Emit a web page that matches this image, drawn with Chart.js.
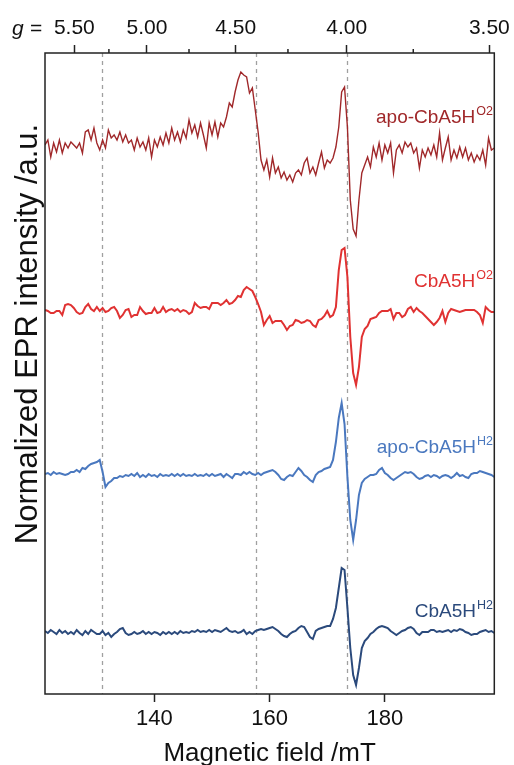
<!DOCTYPE html>
<html><head><meta charset="utf-8">
<script src="https://cdn.jsdelivr.net/npm/chart.js@4.4.1/dist/chart.umd.min.js"></script>
<style>html,body{margin:0;padding:0;background:#fff}canvas{display:block}</style>
</head><body>
<canvas id="c" width="514" height="765"></canvas>
<script>
// Magnetic field (mT)
const field = [121,121.5,122,122.5,123,123.5,124,124.5,125,125.5,126,126.5,127,127.5,128,128.5,129,129.5,130,130.5,131,131.5,132,132.5,133,133.5,134,134.5,135,135.5,136,136.5,137,137.5,138,138.5,139,139.5,140,140.5,141,141.5,142,142.5,143,143.5,144,144.5,145,145.5,146,146.5,147,147.5,148,148.5,149,149.5,150,150.5,151,151.5,152,152.5,153,153.5,154,154.5,155,155.5,156,156.5,157,157.5,158,158.5,159,159.5,160,160.5,161,161.5,162,162.5,163,163.5,164,164.5,165,165.5,166,166.5,167,167.5,168,168.5,169,169.5,170,170.5,171,171.5,172,172.5,173,173.5,174,174.5,175,175.5,176,176.5,177,177.5,178,178.5,179,179.5,180,180.5,181,181.5,182,182.5,183,183.5,184,184.5,185,185.5,186,186.5,187,187.5,188,188.5,189,189.5,190,190.5,191,191.5,192,192.5,193,193.5,194,194.5,195,195.5,196,196.5,197,197.5,198,198.5,199];

// Offset EPR intensities (a.u.), one per series
const apoO2 = [549,554,537,551,542,554,541,551,546,552,
549,546,551,541,562,564,554,566,551,544,
554,546,564,556,559,554,562,552,559,551,
554,544,556,547,552,544,556,537,554,547,
557,549,561,551,566,554,562,552,564,556,
574,561,569,557,571,559,546,571,559,572,
557,571,567,577,591,587,602,614,622,619,
617,601,606,584,562,534,524,534,517,536,
521,527,516,522,514,519,512,521,524,519,
531,536,521,527,519,531,542,526,534,531,
536,547,567,602,607,567,494,465,458,494,
521,529,537,527,547,537,551,534,549,541,
551,521,544,549,541,552,547,551,541,546,
526,544,537,546,539,549,537,561,534,546,
557,534,544,536,547,537,546,534,541,532,
539,534,544,529,556,544,546];

const cbO2 = [384,383,381,381,383,383,379,389,390,389,
386,382,380,381,387,390,385,383,387,383,
386,382,383,386,387,383,376,379,384,385,
377,379,379,387,383,380,381,381,386,381,
382,387,382,384,385,383,385,382,384,383,
380,382,391,388,386,387,387,385,391,391,
391,389,391,394,390,391,394,398,397,404,
407,405,403,397,390,382,369,374,378,371,
373,373,373,369,364,368,369,374,373,371,
372,374,373,369,367,374,375,378,383,377,
379,387,424,444,446,417,357,321,309,327,
357,365,368,375,376,377,381,383,383,383,
385,375,381,381,377,379,385,387,382,386,
383,381,378,375,372,369,372,376,383,372,
381,385,384,383,382,383,384,384,384,384,
382,379,371,387,384,382,382];

const apoH2 = [220,221,219,222,220,221,220,219,220,222,
222,224,222,226,225,228,230,231,232,234,
222,207,211,213,216,216,218,217,219,218,
220,218,221,217,219,217,220,218,219,217,
220,218,219,218,220,218,220,218,220,218,
219,218,220,218,219,218,220,218,220,218,
219,220,217,220,218,216,220,220,219,222,
220,222,220,219,221,219,221,222,223,224,
222,219,215,214,217,219,218,222,226,223,
219,217,214,212,219,222,223,225,226,227,
234,252,276,291,270,217,174,154,174,199,
211,215,217,219,219,220,224,226,221,219,
216,214,216,218,220,222,221,222,220,217,
215,216,218,219,217,219,218,216,218,219,
218,216,218,221,218,219,217,216,220,221,
221,223,222,221,220,219,217];

const cbH2 = [63,61,64,62,60,64,61,63,60,62,
60,64,61,59,63,60,64,62,60,60,
63,59,61,57,60,62,65,66,61,59,
60,62,60,61,63,60,62,60,62,61,
59,62,60,62,60,62,60,63,61,62,
61,63,62,64,62,63,62,64,62,64,
63,62,64,66,63,62,63,61,62,64,
60,62,60,63,64,65,64,65,66,67,
65,63,60,58,57,60,62,63,66,68,
67,62,57,55,63,65,66,67,68,68,
75,86,106,126,124,86,46,19,9,26,
46,53,56,60,62,65,67,68,67,66,
63,61,59,61,63,64,66,67,65,61,
59,62,62,62,64,64,62,63,62,63,
64,62,64,63,65,64,62,61,59,60,
60,62,63,64,62,63,61];

const seriesNames = ['apo-CbA5H','CbA5H','apo-CbA5H','CbA5H'];
const seriesSup = ['O2','O2','H2','H2'];
const fieldTicks = [140,160,180];
const gMajor = [5.50,5.00,4.50,4.00,3.50];
const gMinor = [5.25,4.75,4.25,3.75];
const markerFields = [130.9,157.7,173.4];
const G_CONST = 693.5; // h*nu/muB in mT

const FONT = '"Liberation Sans", Arial, Helvetica, sans-serif';
const colors = ['#a0282a','#e03232','#4a78bf','#2b4a7c'];
const widths = [1.4,2,2,2];
const labelBaselines = [123,287,453,617];

const seriesValues = [apoO2, cbO2, apoH2, cbH2];
const datasets = seriesValues.map((vals,si)=>({
  label: seriesNames[si]+seriesSup[si],
  data: field.map((f,i)=>({x:f,y:vals[i]})),
  borderColor: colors[si], borderWidth: widths[si],
  pointRadius:0, fill:false, tension:0, xAxisID:'x', yAxisID:'y'
}));

const decor = {
  id:'decor',
  beforeDatasetsDraw(chart){
    const {ctx, chartArea:a, scales:{x}} = chart;
    ctx.save();
    ctx.strokeStyle='#a0a0a0'; ctx.lineWidth=1.3; ctx.setLineDash([4,4]);
    markerFields.forEach(f=>{
      const px=Math.round(x.getPixelForValue(f))+0.5;
      ctx.beginPath(); ctx.moveTo(px,a.top); ctx.lineTo(px,a.bottom); ctx.stroke();
    });
    ctx.restore();
  },
  afterDraw(chart){
    const {ctx, chartArea:a, scales:{x2}} = chart;
    ctx.save();
    ctx.strokeStyle='#222'; ctx.lineWidth=1.5;
    ctx.strokeRect(a.left, a.top, a.right-a.left, a.bottom-a.top);
    gMinor.forEach(g=>{
      const px=x2.getPixelForValue(G_CONST/g);
      ctx.beginPath(); ctx.moveTo(px,a.top); ctx.lineTo(px,a.top-4); ctx.stroke();
    });
    ctx.fillStyle='#111'; ctx.textBaseline='alphabetic'; ctx.textAlign='left';
    ctx.font='italic 21px '+FONT; ctx.fillText('g',12,35);
    ctx.font='21px '+FONT; ctx.fillText('=',30,35);
    ctx.textAlign='center'; ctx.font='26px '+FONT;
    ctx.fillText('Magnetic field /mT',(a.left+a.right)/2,761);
    ctx.save(); ctx.translate(37,334); ctx.rotate(-Math.PI/2);
    ctx.font='31px '+FONT; ctx.textAlign='center';
    ctx.fillText('Normalized EPR intensity /a.u.',0,0); ctx.restore();
    ctx.textAlign='left';
    seriesNames.forEach((nm,i)=>{
      ctx.font='19px '+FONT; const w1=ctx.measureText(nm).width;
      ctx.font='12.5px '+FONT; const w2=ctx.measureText(seriesSup[i]).width;
      const x0=493-w1-w2-1;
      ctx.fillStyle=colors[i];
      ctx.font='19px '+FONT; ctx.fillText(nm,x0,labelBaselines[i]);
      ctx.font='12.5px '+FONT; ctx.fillText(seriesSup[i],x0+w1+1,labelBaselines[i]-8);
    });
    ctx.restore();
  }
};

const gridOpts = {display:true,drawOnChartArea:false,drawTicks:true,tickLength:8,tickWidth:1.5,tickColor:'#222'};

new Chart(document.getElementById('c'), {
  type:'line',
  data:{datasets},
  options:{
    responsive:false, animation:false, devicePixelRatio:1,
    layout:{padding:{left:45,right:18,top:0,bottom:0}},
    plugins:{legend:{display:false},tooltip:{enabled:false}},
    scales:{
      x:{type:'linear',position:'bottom',min:121,max:199,
        afterBuildTicks:s=>{s.ticks=fieldTicks.map(v=>({value:v}));},
        afterFit:s=>{s.height=71;},
        grid:gridOpts, border:{display:false},
        ticks:{font:{family:FONT,size:22},color:'#111',padding:4,maxRotation:0,autoSkip:false}},
      x2:{type:'linear',position:'top',min:121,max:199,
        afterBuildTicks:s=>{s.ticks=gMajor.map(g=>({value:G_CONST/g}));},
        afterFit:s=>{s.height=53;},
        grid:gridOpts, border:{display:false},
        ticks:{font:{family:FONT,size:21},color:'#111',padding:4,maxRotation:0,autoSkip:false,
          callback:v=>(G_CONST/v).toFixed(2)}},
      y:{display:false,min:0,max:641}
    }
  },
  plugins:[decor]
});
</script>
</body></html>
